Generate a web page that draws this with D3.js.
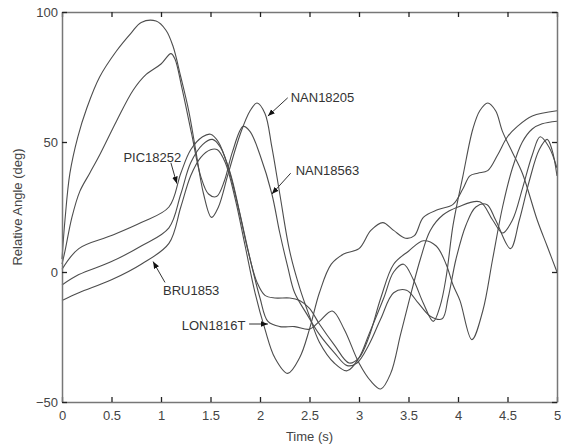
<!DOCTYPE html>
<html>
<head>
<meta charset="utf-8">
<script src="https://cdn.jsdelivr.net/npm/d3@7"></script>
<style>
  body { margin: 0; background: #fff; }
  text { font-family: "Liberation Sans", Arial, sans-serif; }
</style>
</head>
<body>
<div id="chart"></div>
<script>
// curve data: [time (s), relative angle (deg)]
const nan18205 = [[0,5],[0.03,20],[0.08,38],[0.16,52],[0.25,63],[0.38,75],[0.55,85],[0.7,92],[0.8,96],[0.95,96.5],[1.05,93],[1.12,87],[1.2,75],[1.28,62],[1.35,47],[1.43,30],[1.51,21],[1.58,25],[1.68,38],[1.8,53],[1.9,62],[1.97,65],[2.05,61],[2.12,48],[2.2,30],[2.3,8],[2.4,-6],[2.5,-17],[2.6,-27],[2.75,-35],[2.88,-38],[3.0,-33],[3.1,-24],[3.25,-10],[3.35,0],[3.45,3],[3.55,-3],[3.65,-12],[3.75,-19],[3.82,-13],[3.88,-2],[3.95,18],[4.05,37],[4.15,55],[4.22,62],[4.3,65],[4.38,62],[4.45,54],[4.55,46],[4.65,38],[4.8,20],[4.9,10],[5,0]];
const nan18563 = [[0,3],[0.03,8],[0.1,21],[0.18,31],[0.28,38],[0.38,45],[0.55,58],[0.72,70],[0.85,76],[1.0,80],[1.1,84],[1.14,82],[1.21,71],[1.31,53],[1.4,37],[1.48,30],[1.56,29],[1.64,35],[1.72,46],[1.83,56],[1.9,54],[2.0,45],[2.12,30],[2.2,15],[2.28,2],[2.35,-8],[2.47,-16],[2.6,-24],[2.75,-31],[2.88,-36],[2.98,-35],[3.1,-28],[3.22,-18],[3.35,-8],[3.48,-7],[3.6,-12],[3.72,-17],[3.84,-18],[3.9,-10],[3.98,5],[4.08,18],[4.18,25],[4.29,26],[4.38,20],[4.53,9],[4.62,20],[4.72,35],[4.82,47],[4.9,51],[4.95,47],[5,37]];
const pic18252 = [[0,1],[0.17,9],[0.5,14],[0.8,19],[1.08,25],[1.2,38],[1.3,47],[1.42,52],[1.5,53],[1.58,50],[1.68,40],[1.78,25],[1.88,8],[1.97,-4],[2.05,-9],[2.15,-10],[2.3,-10],[2.4,-11],[2.5,-14],[2.6,-20],[2.75,-28],[2.9,-35],[3.0,-33],[3.1,-25],[3.22,-10],[3.35,3],[3.5,8],[3.65,12],[3.78,10],[3.88,3],[3.95,-5],[4.02,-11],[4.14,-26],[4.25,-15],[4.35,5],[4.45,25],[4.55,40],[4.65,50],[4.75,55],[4.85,57],[5,58]];
const lon1816t = [[0,-5],[0.17,-1],[0.5,4],[0.8,10],[1.08,17],[1.2,30],[1.3,42],[1.42,49],[1.52,51],[1.6,48],[1.7,38],[1.8,22],[1.9,5],[2.0,-10],[2.08,-19],[2.2,-21],[2.35,-21],[2.5,-22],[2.6,-19],[2.73,-15],[2.85,-22],[3.0,-35],[3.12,-42],[3.22,-45],[3.32,-39],[3.42,-24],[3.5,-12],[3.62,5],[3.72,16],[3.85,22],[4.0,25],[4.22,27],[4.35,20],[4.45,15],[4.55,20],[4.65,32],[4.75,45],[4.83,52],[4.92,48],[5,40]];
const bru1853 = [[0,-11],[0.17,-8],[0.5,-3],[0.8,3],[1.08,11],[1.2,25],[1.3,37],[1.4,44],[1.5,47],[1.57,47],[1.65,42],[1.75,28],[1.85,10],[1.95,-8],[2.05,-22],[2.15,-33],[2.28,-39],[2.4,-33],[2.5,-22],[2.6,-8],[2.72,3],[2.85,7],[3.0,9],[3.12,16],[3.24,19],[3.35,16],[3.47,13],[3.56,14],[3.65,21],[3.8,24],[3.95,26],[4.05,32],[4.12,37],[4.2,38],[4.3,39],[4.4,45],[4.5,52],[4.6,56],[4.75,60],[5,62]];

const seriesList = [nan18205, nan18563, pic18252, lon1816t, bru1853];

// labels: name, where the text sits [t, deg], where the arrow points [t, deg]
const labelNames = ["NAN18205", "NAN18563", "PIC18252", "BRU1853", "LON1816T"];
const labelText = [[2.31, 67], [2.36, 39], [0.62, 44], [1.02, -7], [1.21, -20.5]];
const labelTip = [[2.08, 60], [2.12, 30], [1.16, 34], [0.92, 4], [2.08, -20]];
const labelFrom = [[2.28, 67], [2.31, 38], [1.1, 42], [1.04, -4], [1.89, -20]];

const xTicks = [0, 0.5, 1, 1.5, 2, 2.5, 3, 3.5, 4, 4.5, 5];
const yTicks = [-50, 0, 50, 100];

let width = 561;
let height = 446;
let margin = {top: 12, right: 4, bottom: 44, left: 62};

let svg = d3.select('#chart').append('svg')
    .attr('width', width)
    .attr('height', height);

// scales
let x = d3.scaleLinear().domain([0, 5]).range([margin.left, width - margin.right]);
let y = d3.scaleLinear().domain([-50, 100]).range([height - margin.bottom, margin.top]);

// arrow head
svg.append('defs').append('marker')
    .attr('id', 'head')
    .attr('viewBox', '0 0 10 10')
    .attr('refX', 10).attr('refY', 5)
    .attr('markerWidth', 7).attr('markerHeight', 7)
    .attr('orient', 'auto')
  .append('path')
    .attr('d', 'M0,1 L10,5 L0,9 Z')
    .attr('fill', '#111');

// the curves
let line = d3.line()
    .x(d => x(d[0]))
    .y(d => y(d[1]))
    .curve(d3.curveCatmullRom);

seriesList.forEach(s => {
  svg.append('path')
    .datum(s)
    .attr('d', line)
    .attr('fill', 'none')
    .attr('stroke', '#4d4d4d')
    .attr('stroke-width', 1.1);
});

// axes, ticks pointing in like matlab
let xAxis = svg.append('g')
    .attr('transform', `translate(0,${y(-50)})`)
    .call(d3.axisBottom(x).tickValues(xTicks).tickFormat(d => d).tickSizeInner(-5).tickSizeOuter(0).tickPadding(9));
let xTop = svg.append('g')
    .attr('transform', `translate(0,${y(100)})`)
    .call(d3.axisTop(x).tickValues(xTicks).tickFormat('').tickSizeInner(-5).tickSizeOuter(0));
let yAxis = svg.append('g')
    .attr('transform', `translate(${x(0)},0)`)
    .call(d3.axisLeft(y).tickValues(yTicks).tickSizeInner(-5).tickSizeOuter(0).tickPadding(4));
let yRight = svg.append('g')
    .attr('transform', `translate(${x(5)},0)`)
    .call(d3.axisRight(y).tickValues(yTicks).tickFormat('').tickSizeInner(-5).tickSizeOuter(0));

svg.selectAll('.domain').attr('stroke', '#777').attr('stroke-width', 1.5);
svg.selectAll('.tick line').attr('stroke', '#222').attr('stroke-width', 1.3);
svg.selectAll('.tick text')
    .attr('font-size', 13)
    .attr('fill', '#444')
    .style('font-family', '"Liberation Sans", Arial, sans-serif');

// axis titles
svg.append('text')
    .attr('x', x(2.5))
    .attr('y', height - 5)
    .attr('text-anchor', 'middle')
    .attr('font-size', 13)
    .attr('fill', '#444')
    .text('Time (s)');

svg.append('text')
    .attr('transform', `translate(22,${y(25)}) rotate(-90)`)
    .attr('text-anchor', 'middle')
    .attr('font-size', 13)
    .attr('fill', '#444')
    .text('Relative Angle (deg)');

// curve labels with arrows
labelNames.forEach((name, i) => {
  svg.append('line')
    .attr('x1', x(labelFrom[i][0])).attr('y1', y(labelFrom[i][1]))
    .attr('x2', x(labelTip[i][0])).attr('y2', y(labelTip[i][1]))
    .attr('stroke', '#333')
    .attr('stroke-width', 1)
    .attr('marker-end', 'url(#head)');
  svg.append('text')
    .attr('x', x(labelText[i][0]))
    .attr('y', y(labelText[i][1]))
    .attr('dy', '0.35em')
    .attr('font-size', 13)
    .attr('fill', '#333')
    .text(name);
});
</script>
</body>
</html>
